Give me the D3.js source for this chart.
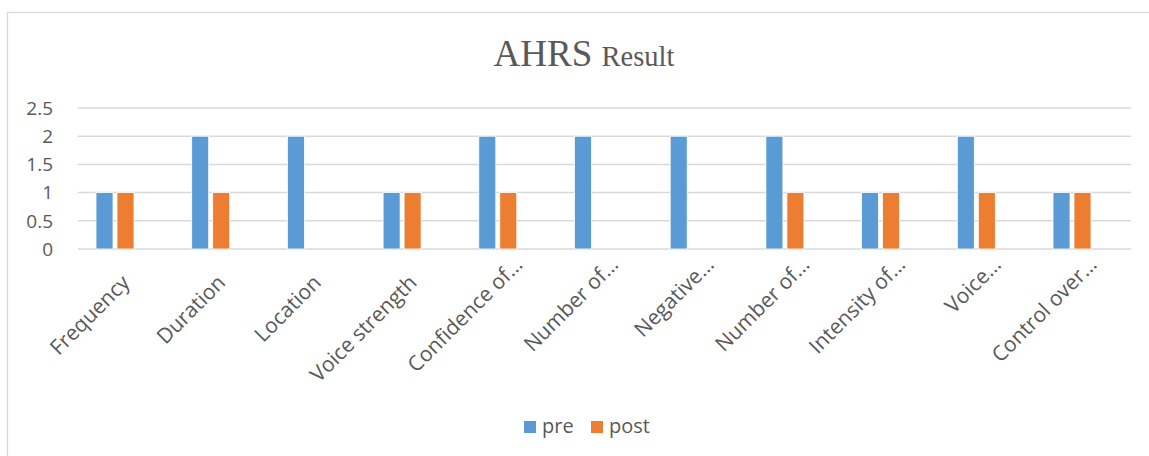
<!DOCTYPE html>
<html>
<head>
<meta charset="utf-8">
<script src="https://cdn.jsdelivr.net/npm/d3@7"></script>
<style>
  html, body { margin: 0; padding: 0; background: #fff; }
  svg { display: block; }
</style>
</head>
<body>
<svg id="chart" width="1149" height="456"></svg>
<script>
// AHRS Result – pre / post clustered columns

const CATEGORIES = ["Frequency", "Duration", "Location", "Voice strength", "Confidence of…",
                    "Number of…", "Negative…", "Number of…", "Intensity of…", "Voice…", "Control over…"];
const PRE  = [1, 2, 2, 1, 2, 2, 2, 2, 1, 2, 1];
const POST = [1, 1, 0, 1, 1, 0, 0, 1, 1, 1, 1];
const SERIES = ["pre", "post"];
const COLORS = { pre: "#5B9BD5", post: "#ED7D31" };
const Y_TICKS = [0, 0.5, 1, 1.5, 2, 2.5];

const svg = d3.select("#chart");
const W = 1149, H = 456;
const FONT = "'Open Sans', 'Noto Sans', sans-serif";
const TXT = "#595959";

// chart frame
svg.append("rect")
  .attr("x", 7.5).attr("y", 12.5)
  .attr("width", W + 10).attr("height", H + 10)
  .attr("fill", "#fff").attr("stroke", "#D9D9D9").attr("stroke-width", 1.3);

// title
const title = svg.append("text")
  .attr("x", 584).attr("y", 66)
  .attr("text-anchor", "middle")
  .attr("fill", TXT)
  .style("font-family", "'Liberation Serif', 'Times New Roman', serif");
title.append("tspan").attr("font-size", 37).text("AHRS ");
title.append("tspan").attr("font-size", 28.5).text("Result");

// ── Scales ──────────────────────────────────────────
const gridX0 = 78, gridX1 = 1131;
const y = d3.scaleLinear().domain([0, 2.5]).range([249, 108]);

const x0 = d3.scaleBand()
  .domain(d3.range(CATEGORIES.length))
  .range([67.15, 1119.85]);

const x1 = d3.scaleBand()
  .domain(SERIES)
  .range([-19, 19])
  .paddingInner(0.19);

// gridlines
svg.append("g").selectAll("line")
  .data(Y_TICKS)
  .join("line")
  .attr("x1", gridX0).attr("x2", gridX1)
  .attr("y1", d => y(d)).attr("y2", d => y(d))
  .attr("stroke", "#D9D9D9").attr("stroke-width", 1.5);

// y tick labels
svg.append("g").selectAll("text")
  .data(Y_TICKS)
  .join("text")
  .attr("x", 53).attr("y", d => y(d))
  .attr("dy", "0.36em")
  .attr("text-anchor", "end")
  .attr("fill", TXT)
  .style("font-family", FONT).style("font-size", "19px")
  .text(d => d);

// ── Bars ────────────────────────────────────────────
const rows = CATEGORIES.map((c, i) => ({ i, pre: PRE[i], post: POST[i] }));

const groups = svg.append("g").selectAll("g")
  .data(rows)
  .join("g")
  .attr("transform", d => `translate(${x0(d.i) + x0.bandwidth() / 2},0)`);

groups.selectAll("rect")
  .data(d => SERIES.map(s => ({ s, v: d[s] })).filter(e => e.v > 0))
  .join("rect")
  .attr("x", d => x1(d.s))
  .attr("width", x1.bandwidth())
  .attr("y", d => y(d.v))
  .attr("height", d => y(0) - y(d.v))
  .attr("fill", d => COLORS[d.s])
  .attr("stroke", "#fff").attr("stroke-width", 0.8);

// category labels, rotated (truncated ones sit a little further up the diagonal)
svg.append("g").selectAll("text")
  .data(rows)
  .join("text")
  .attr("transform", d => {
    const cut = CATEGORIES[d.i].endsWith("…");
    const tx = x0(d.i) + x0.bandwidth() / 2 + (cut ? 26 : 16);
    const ty = cut ? 266 : 284;
    return `translate(${tx},${ty}) rotate(-45)`;
  })
  .attr("text-anchor", "end")
  .attr("fill", TXT)
  .style("font-family", FONT).style("font-size", "21px")
  .text(d => CATEGORIES[d.i]);

// ── Legend ──────────────────────────────────────────
const legend = svg.append("g");
const LEG_X = { pre: 524, post: 591 };
SERIES.forEach(s => {
  legend.append("rect")
    .attr("x", LEG_X[s]).attr("y", 421)
    .attr("width", 12).attr("height", 12)
    .attr("fill", COLORS[s]);
  legend.append("text")
    .attr("x", LEG_X[s] + 18).attr("y", 433)
    .attr("fill", TXT)
    .style("font-family", FONT).style("font-size", "20px")
    .text(s);
});
</script>
</body>
</html>
